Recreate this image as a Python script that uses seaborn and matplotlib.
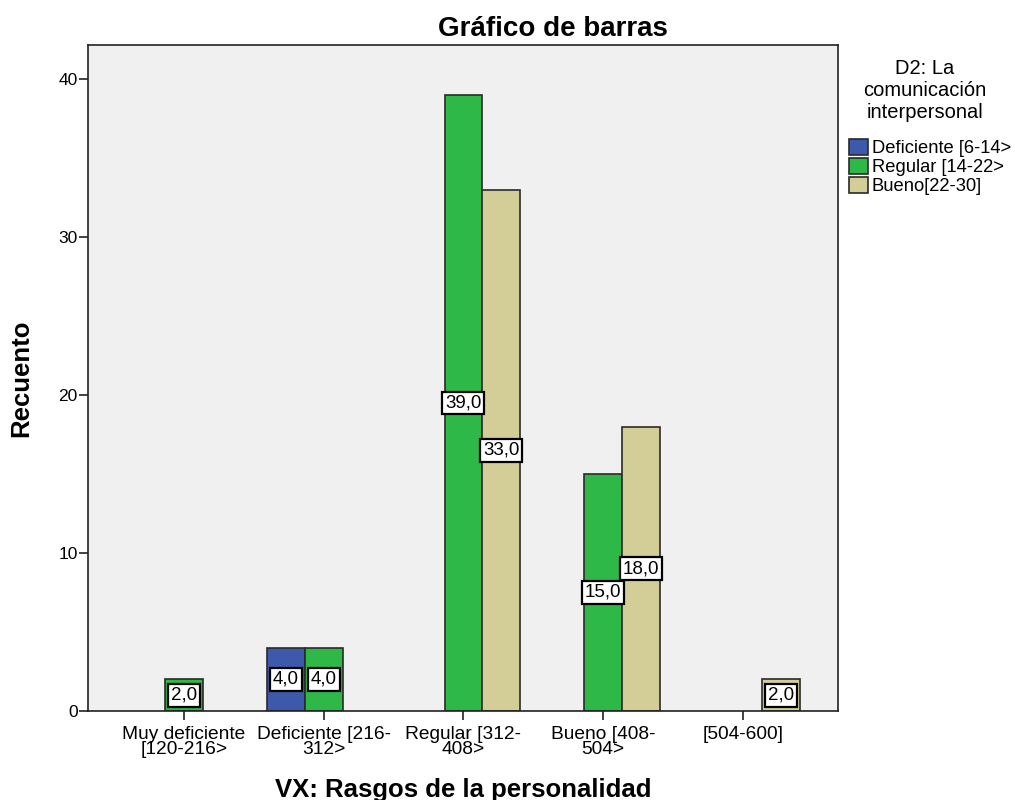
import matplotlib
matplotlib.use("Agg")
import matplotlib.pyplot as plt
import seaborn as sns
import pandas as pd

# categories on the x axis (VX: Rasgos de la personalidad)
categorias = ["Muy deficiente\n[120-216>", "Deficiente [216-\n312>",
              "Regular [312-\n408>", "Bueno [408-\n504>", "[504-600]"]
# hue levels (D2: La comunicación interpersonal)
grupos = ["Deficiente [6-14>", "Regular [14-22>", "Bueno[22-30]"]
# counts per hue level, 0 = no bar
deficiente = [0, 4, 0, 0, 0]
regular = [2, 4, 39, 15, 0]
bueno = [0, 0, 33, 18, 2]
colores = ["#3E58AC", "#2EB848", "#D3CE97"]

rows = []
for g, vals in zip(grupos, [deficiente, regular, bueno]):
    for c, v in zip(categorias, vals):
        if v > 0:
            rows.append({"rasgo": c, "recuento": v, "comunicacion": g})
df = pd.DataFrame(rows)

sns.set_style("white")
plt.rcParams["font.family"] = ["Liberation Sans", "DejaVu Sans"]
plt.rcParams["text.color"] = "black"
plt.rcParams["axes.labelcolor"] = "black"
plt.rcParams["xtick.color"] = "#222222"
plt.rcParams["ytick.color"] = "#222222"

fig = plt.figure(figsize=(10.15, 8), dpi=100)
ax = fig.add_axes([88 / 1015, 1 - 711 / 800, 750 / 1015, 666 / 800])
ax.set_facecolor("#F0F0F0")

sns.barplot(data=df, x="rasgo", y="recuento", hue="comunicacion",
            order=categorias, hue_order=grupos, palette=colores,
            saturation=1, width=0.814, edgecolor="#2a2a2a", linewidth=1.2,
            errorbar=None, ax=ax)

for cont in ax.containers:
    ax.bar_label(cont, fmt=lambda v: f"{v:.1f}".replace(".", ","),
                 label_type="center", fontsize=13.5, color="black",
                 bbox=dict(boxstyle="square,pad=0.15", fc="white",
                           ec="black", lw=1.6))

ax.set_xlim(-0.687, 4.68)
ax.set_ylim(0, 42.15)
ax.set_yticks([0, 10, 20, 30, 40])

for s in ax.spines.values():
    s.set_visible(True)
    s.set_color("#222222")
    s.set_linewidth(1.2)

ax.tick_params(axis="both", direction="out", length=6.5, width=1.2,
               color="#222222", bottom=True, left=True)
ax.tick_params(axis="y", labelsize=12.5, pad=1, labelcolor="black")
ax.tick_params(axis="x", labelsize=13.8, pad=4.5, labelcolor="black")
for t in ax.get_xticklabels():
    t.set_linespacing(0.85)

ax.set_xlabel("VX: Rasgos de la personalidad", fontsize=18.5, fontweight="bold")
ax.set_ylabel("Recuento", fontsize=18.5, fontweight="bold")
ax.xaxis.set_label_coords(0.5, -0.1)
ax.yaxis.set_label_coords(-0.073, 0.5)

handles, labels = ax.get_legend_handles_labels()
leg = ax.legend(handles, labels, loc="upper left",
                bbox_to_anchor=(836 / 1015, 1 - 126 / 800),
                bbox_transform=fig.transFigure, frameon=False,
                fontsize=13.2, handlelength=1.05, handleheight=1.0,
                handletextpad=0.2, labelspacing=0.02, borderpad=0.2)
for h in leg.legend_handles:
    h.set_edgecolor("#2a2a2a")
    h.set_linewidth(1.2)

fig.text(925 / 1015, 1 - 59 / 800, "D2: La\ncomunicación\ninterpersonal",
         ha="center", va="top", multialignment="center", fontsize=14.5,
         linespacing=1.2)

fig.text(553 / 1015, 1 - 29 / 800, "Gráfico de barras", ha="center",
         va="center", fontsize=20, fontweight="bold")

fig.savefig("out.png", dpi=100, facecolor="white")
